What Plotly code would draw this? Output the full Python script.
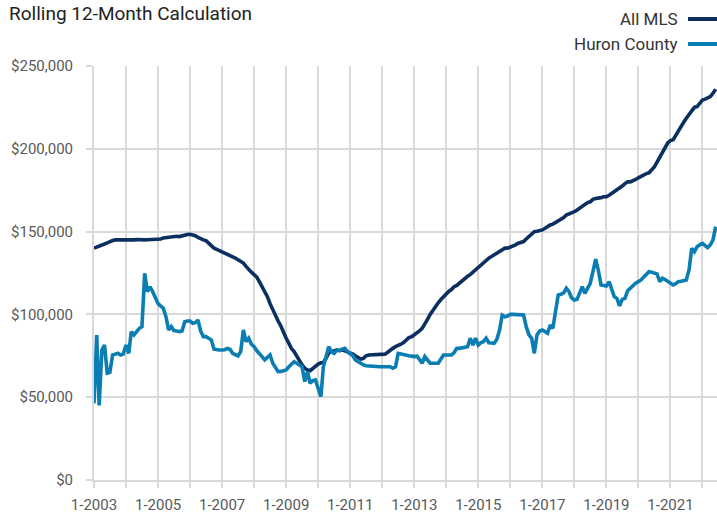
import pandas as pd
import plotly.graph_objects as go

# Monthly rolling 12-month values (thousands of dollars), Jan 2003 - Jun 2022
all_mls = [
    140.0, 140.5, 141.0, 141.8, 142.5, 143.2, 144.0, 144.6, 145.0, 145.0, 144.8, 144.6,  # 2003
    144.5, 144.7, 144.6, 145.0, 145.2, 145.0, 145.2, 145.0, 145.1, 145.2, 145.0, 145.2,  # 2004
    145.0, 145.5, 146.2, 146.5, 146.4, 146.8, 147.0, 147.2, 147.0, 147.5, 148.0, 148.3,  # 2005
    148.4, 148.2, 147.5, 146.5, 145.6, 145.0, 144.5, 143.0, 141.0, 140.0, 139.2, 138.5,  # 2006
    138.0, 137.2, 136.5, 135.5, 135.0, 134.0, 133.0, 132.0, 131.0, 129.0, 127.0, 125.5,  # 2007
    124.0, 122.5, 119.8, 117.0, 114.0, 110.7, 106.5, 102.7, 99.0, 96.0, 93.0, 89.0,      # 2008
    85.6, 82.5, 79.5, 77.5, 75.0, 71.5, 69.5, 67.5, 66.4, 66.0, 67.5, 68.5,              # 2009
    70.0, 70.8, 71.0, 73.5, 76.7, 77.5, 78.0, 78.5, 78.2, 78.5, 78.0, 77.5,              # 2010
    77.0, 76.0, 75.0, 74.0, 73.0, 73.5, 75.0, 75.5, 75.5, 75.5, 75.5, 75.5,              # 2011
    75.5, 76.0, 77.0, 78.5, 79.5, 80.5, 81.0, 82.0, 83.0, 84.5, 86.0, 86.5,              # 2012
    87.5, 88.5, 90.0, 91.6, 94.0, 97.0, 100.0, 102.7, 105.0, 107.0, 109.0, 110.7,        # 2013
    112.5, 114.0, 115.0, 116.7, 117.5, 119.0, 120.0, 121.5, 123.0, 124.0, 125.5, 127.0,  # 2014
    128.0, 129.5, 131.0, 132.9, 134.0, 135.0, 136.0, 137.0, 138.0, 139.0, 140.0, 140.0,  # 2015
    140.5, 141.0, 142.0, 143.0, 143.5, 144.0, 145.5, 147.0, 148.5, 150.0, 150.2, 150.5,  # 2016
    151.0, 152.0, 153.0, 154.0, 154.5, 155.5, 156.0, 157.0, 158.5, 160.0, 160.5, 161.0,  # 2017
    162.0, 163.0, 164.0, 165.0, 166.5, 167.5, 168.0, 169.5, 170.0, 170.0, 170.5, 171.0,  # 2018
    171.0, 172.0, 173.0, 174.0, 175.0, 176.5, 177.5, 179.0, 180.0, 180.0, 180.5, 181.5,  # 2019
    182.5, 183.5, 184.0, 185.0, 185.5, 187.0, 189.0, 192.0, 195.0, 198.0, 201.0, 203.5,  # 2020
    205.0, 205.5, 208.0, 211.0, 213.5, 216.0, 218.5, 221.0, 223.5, 225.0, 225.5, 227.5,  # 2021
    229.5, 230.0, 231.0, 231.5, 233.5, 236.0,                                            # 2022
]

huron_county = [
    46.3, 87.5, 45.0, 78.5, 81.5, 64.5, 65.0, 75.5, 76.0, 76.5, 75.5, 76.0,              # 2003
    81.5, 76.5, 89.6, 87.6, 89.6, 91.6, 92.6, 124.8, 113.7, 116.7, 113.7, 109.5,         # 2004
    106.5, 105.0, 103.7, 98.6, 90.6, 92.6, 90.2, 90.0, 89.6, 90.0, 95.6, 96.0,           # 2005
    96.0, 94.6, 95.0, 96.6, 90.0, 86.6, 86.6, 85.6, 84.5, 79.0, 78.5, 78.5,              # 2006
    78.5, 78.7, 79.5, 79.0, 76.5, 75.5, 74.9, 77.5, 90.6, 83.5, 85.6, 82.0,              # 2007
    80.5, 78.0, 76.5, 74.5, 72.5, 74.0, 75.5, 70.5, 68.0, 65.4, 65.6, 65.8,              # 2008
    66.5, 68.4, 70.0, 71.4, 70.5, 69.5, 68.4, 59.4, 65.4, 58.4, 60.0, 60.4,              # 2009
    54.4, 50.3, 68.4, 74.5, 80.5, 77.5, 76.5, 78.5, 78.0, 79.0, 79.5, 77.5,              # 2010
    76.5, 75.0, 72.5, 71.4, 70.0, 69.5, 69.0, 69.0, 68.8, 68.6, 68.5, 68.4,              # 2011
    68.4, 68.4, 68.4, 68.4, 67.5, 68.4, 76.5, 76.0, 75.5, 75.5, 75.0, 74.8,              # 2012
    74.5, 74.9, 73.0, 70.5, 74.5, 72.5, 70.5, 70.5, 70.5, 70.5, 73.0, 75.5,              # 2013
    75.5, 75.5, 75.5, 77.0, 79.5, 79.5, 80.0, 80.5, 80.5, 85.6, 81.5, 85.6,              # 2014
    81.5, 83.0, 83.5, 85.6, 82.9, 82.7, 82.5, 85.0, 90.6, 99.6, 98.6, 99.0,              # 2015
    100.0, 100.0, 100.0, 100.0, 100.0, 99.6, 92.6, 87.6, 85.6, 76.5, 87.6, 90.0,         # 2016
    90.6, 89.6, 88.6, 93.6, 91.6, 102.0, 111.7, 112.2, 113.0, 115.8, 113.7, 110.0,       # 2017
    108.7, 109.1, 112.7, 116.7, 112.7, 116.0, 118.8, 125.8, 133.3, 126.8, 117.8, 117.5,  # 2018
    117.2, 119.8, 115.8, 110.7, 109.7, 105.1, 109.1, 109.7, 114.3, 116.0, 117.8, 118.8,  # 2019
    119.8, 120.8, 122.5, 124.0, 125.8, 125.5, 125.2, 124.5, 119.8, 121.8, 121.0, 119.8,  # 2020
    119.0, 117.8, 118.5, 119.8, 120.0, 120.5, 120.8, 126.8, 139.9, 137.9, 140.9, 142.0,  # 2021
    142.9, 141.5, 140.3, 141.9, 145.0, 153.0,                                            # 2022
]

months = pd.date_range("2003-01-01", periods=len(all_mls), freq="MS")

tick_years = list(range(2003, 2023))
tick_vals = [f"{y}-01-01" for y in tick_years]
tick_text = [f"1-{y}" if (y - 2003) % 2 == 0 else "" for y in tick_years]

y_ticks = [0, 50000, 100000, 150000, 200000, 250000]
y_text = ["$0", "$50,000", "$100,000", "$150,000", "$200,000", "$250,000"]

series_names = ["All MLS", "Huron County"]
series_colors = ["#0b2f5f", "#0a7db3"]

FONT = "Roboto, Liberation Sans, sans-serif"
GRID = "#d9d9d9"

fig = go.Figure()
for name, vals, color in [(series_names[0], all_mls, series_colors[0]),
                          (series_names[1], huron_county, series_colors[1])]:
    fig.add_trace(go.Scatter(
        x=months, y=[v * 1000 for v in vals], mode="lines", name=name,
        line=dict(color=color, width=3.6), showlegend=False,
        hovertemplate="%{x|%m-%Y}: $%{y:,.0f}<extra>" + name + "</extra>",
    ))

W, H = 717, 515
L, R, T, B = 94, 0, 66, 35
pw, ph = W - L - R, H - T - B

def px_to_paper_x(px):
    return (px - L) / pw

def px_to_paper_y(py):
    return (H - B - py) / ph

# title
fig.add_annotation(
    x=px_to_paper_x(7), y=px_to_paper_y(13), xref="paper", yref="paper",
    text="Rolling 12-Month Calculation", showarrow=False,
    xanchor="left", yanchor="middle",
    font=dict(family=FONT, size=19, color="#222222"),
)

# legend (text right-aligned, line sample on the right)
legend_rows = [19, 44]
for name, color, py in zip(series_names, series_colors, legend_rows):
    fig.add_annotation(
        x=px_to_paper_x(680), y=px_to_paper_y(py), xref="paper", yref="paper",
        text=name, showarrow=False, xanchor="right", yanchor="middle",
        font=dict(family=FONT, size=17, color="#333333"),
    )
    fig.add_shape(
        type="line", xref="paper", yref="paper",
        x0=px_to_paper_x(688), x1=px_to_paper_x(720),
        y0=px_to_paper_y(py), y1=px_to_paper_y(py),
        line=dict(color=color, width=4),
    )

fig.update_layout(
    width=W, height=H,
    margin=dict(l=L, r=R, t=T, b=B, pad=0, autoexpand=False),
    paper_bgcolor="white", plot_bgcolor="white",
    font=dict(family=FONT, size=14, color="#595959"),
    xaxis=dict(
        type="date", range=["2003-01-01", "2022-06-16"],
        tickmode="array", tickvals=tick_vals, ticktext=tick_text,
        showgrid=True, gridcolor=GRID, gridwidth=2,
        ticks="outside", ticklen=6, tickcolor=GRID, tickwidth=2,
        showline=True, linecolor=GRID, linewidth=2,
        zeroline=False, ticklabelstandoff=4,
        tickfont=dict(family=FONT, size=15, color="#595959"),
    ),
    yaxis=dict(
        range=[0, 250000], tickmode="array", tickvals=y_ticks, ticktext=y_text,
        showgrid=True, gridcolor=GRID, gridwidth=2,
        ticks="outside", ticklen=6, tickcolor=GRID, tickwidth=2,
        showline=True, linecolor=GRID, linewidth=2,
        zeroline=False, ticklabelstandoff=10,
        tickfont=dict(family=FONT, size=15, color="#595959"),
    ),
)

fig.write_html(
    "out.html",
    config={"displayModeBar": False},
    post_script="document.body.style.margin='0';document.body.style.overflow='hidden';",
)
